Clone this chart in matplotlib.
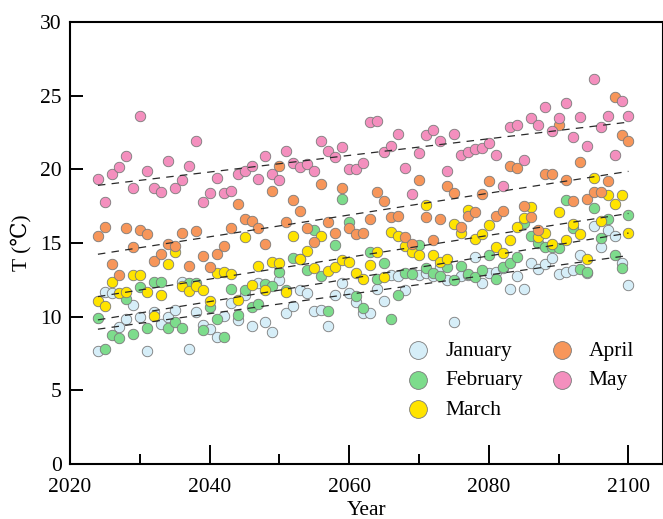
import numpy as np
import matplotlib
matplotlib.use("Agg")
import matplotlib.pyplot as plt

plt.rcParams['font.family'] = ['Liberation Serif', 'DejaVu Serif']
plt.rcParams['mathtext.fontset'] = 'stix'

years = list(range(2024, 2101))

january = [7.7, 11.7, 11.6, 9.29, 9.83, 10.76, 10.0, 7.68, 10.35, 9.5,
           10.0, 10.42, 12.38, 7.81, 10.35, 9.44, 9.15, 8.6, 10.05, 10.92,
           9.74, 11.48, 9.38, 12.27, 9.67, 8.99, 12.5, 10.24, 10.73, 11.82,
           11.6, 10.4, 10.46, 9.38, 11.48, 12.3, 11.6, 11.0, 10.24, 10.28,
           11.87, 11.03, 12.84, 12.77, 11.82, 12.95, 12.84, 12.95, 12.77, 13.4,
           12.5, 9.67, 12.77, 12.84, 14.08, 12.27, 12.95, 13.0, 13.29, 11.87,
           12.77, 11.87, 13.63, 13.22, 13.6, 14.0, 12.9, 13.06, 13.18, 14.2,
           12.95, 16.17, 14.76, 15.9, 15.5, 13.63, 12.16]

february = [9.92, 7.79, 8.76, 8.54, 11.2, 8.81, 12.0, 9.22, 12.34, 12.34,
            9.22, 9.63, 9.22, 12.27, 12.27, 9.1, 10.69, 9.83, 8.6, 11.89,
            10.12, 11.82, 10.69, 10.87, 12.2, 12.09, 13.06, 11.8, 13.97, 13.9,
            13.18, 15.9, 12.77, 10.41, 14.88, 17.98, 16.45, 11.4, 10.57, 14.42,
            12.55, 13.63, 9.83, 11.48, 12.95, 12.9, 14.88, 13.29, 12.95, 12.77,
            13.34, 12.5, 13.45, 12.9, 12.68, 13.18, 14.2, 12.55, 13.4, 13.63,
            14.04, 16.35, 15.45, 15.0, 14.76, 14.76, 14.65, 17.9, 16.0, 13.22,
            13.06, 17.4, 15.33, 16.6, 14.2, 13.29, 16.9]

march = [11.03, 10.73, 12.36, 11.6, 11.7, 12.8, 12.86, 11.66, 10.03, 11.5,
         13.6, 14.4, 12.1, 11.75, 12.05, 11.8, 11.03, 12.95, 13.06, 12.9,
         11.1, 15.4, 12.16, 13.45, 11.8, 13.7, 13.63, 11.66, 15.45, 13.9,
         14.47, 13.3, 15.5, 13.1, 13.4, 13.86, 13.7, 12.95, 12.55, 13.5,
         14.36, 12.66, 15.78, 15.45, 14.8, 14.4, 14.2, 17.55, 14.2, 13.68,
         13.9, 16.3, 15.67, 17.25, 15.26, 15.6, 16.2, 14.76, 14.3, 15.2,
         16.1, 16.7, 17.44, 15.4, 15.67, 14.9, 17.1, 15.2, 16.3, 15.6,
         13.9, 19.4, 16.5, 18.27, 17.66, 18.27, 15.67]

april = [15.47, 16.1, 13.6, 12.85, 16.0, 14.76, 15.9, 15.6, 13.8, 14.25,
         14.9, 14.8, 15.7, 13.45, 15.8, 14.1, 13.4, 14.25, 14.8, 16.0,
         17.65, 16.6, 16.5, 16.05, 14.9, 18.5, 20.2, 16.45, 17.9, 17.2,
         16.0, 15.1, 19.0, 16.45, 15.7, 18.7, 16.0, 15.6, 15.7, 16.6,
         18.45, 17.85, 16.75, 16.85, 15.4, 14.9, 19.25, 16.75, 15.2, 16.6,
         18.9, 18.4, 16.1, 16.8, 17.1, 18.35, 19.2, 16.85, 17.15, 20.2,
         20.1, 17.5, 16.75, 15.9, 19.7, 19.7, 23.0, 19.25, 17.85, 20.5,
         18.0, 18.45, 18.45, 19.2, 24.9, 22.3, 21.9]

may = [19.34, 17.8, 19.7, 20.15, 20.9, 18.7, 23.6, 19.9, 18.7, 18.45,
       20.55, 18.75, 19.25, 20.2, 21.95, 17.8, 18.4, 19.4, 18.4, 18.55,
       19.7, 19.9, 20.2, 19.35, 20.9, 19.7, 19.25, 21.25, 20.4, 20.15,
       20.35, 19.9, 21.95, 21.25, 20.85, 21.5, 20.0, 20.05, 20.4, 23.2,
       23.25, 21.2, 21.55, 22.4, 20.1, 18.3, 21.1, 22.3, 22.7, 21.9,
       19.9, 22.4, 21.0, 21.2, 21.4, 21.45, 21.8, 21.0, 18.85, 22.9,
       23.0, 20.6, 23.5, 23.0, 24.2, 22.6, 23.5, 24.5, 22.2, 23.55,
       21.6, 26.1, 22.9, 23.6, 21.0, 24.65, 23.6]

labels = ['January', 'February', 'March', 'April', 'May']
colors = ['#D6EEF8', '#7DDC8C', '#FFE400', '#F7965A', '#F48FBE']
series = [january, february, march, april, may]

fig = plt.figure(figsize=(6.63, 5.19), dpi=100)
ax = fig.add_axes([70 / 663, 55 / 519, 592.7 / 663, 442 / 519])

yr = np.array(years, dtype=float)
handles = []
for lab, col, vals in zip(labels, colors, series):
    h = ax.scatter(yr, vals, s=57, c=col, edgecolors='#7a7a7a', linewidths=0.6,
                   label=lab, zorder=2)
    handles.append(h)

for vals in series:
    k, b = np.polyfit(yr, np.array(vals), 1)
    xx = np.array([yr[0], yr[-1]])
    ax.plot(xx, k * xx + b, color='#2a2a2a', lw=0.9, dashes=(6, 5), zorder=3)

ax.set_xlim(2020, 2104.9)
ax.set_ylim(0, 30)
ax.set_xticks([2020, 2040, 2060, 2080, 2100])
ax.set_xticks([2030, 2050, 2070, 2090], minor=True)
ax.set_yticks([0, 5, 10, 15, 20, 25, 30])

fs = 15.5
ax.tick_params(axis='x', which='major', direction='in', length=14, width=1.4,
               labelsize=fs, pad=10)
ax.tick_params(axis='x', which='minor', direction='in', length=7, width=1.4)
ax.tick_params(axis='y', which='major', direction='in', length=9.5, width=1.4,
               labelsize=fs, pad=6)
for sp in ax.spines.values():
    sp.set_linewidth(1.5)

ax.set_xlabel('Year', fontsize=fs, labelpad=3)
ax.set_ylabel('T (℃)', fontsize=fs, labelpad=6)

ax.legend(handles=handles, loc='upper left', bbox_to_anchor=(0.569, 0.279),
          ncol=2, frameon=False, fontsize=fs, markerscale=1.7,
          handlelength=1.0, handletextpad=0.76, columnspacing=1.31,
          labelspacing=0.44, borderpad=0, borderaxespad=0)

fig.savefig('out.png', dpi=100)
